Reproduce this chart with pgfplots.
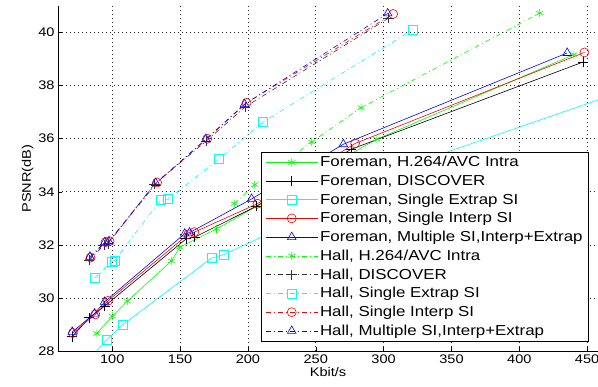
\documentclass[border=0pt]{standalone}
\usepackage{pgfplots}
\pgfplotsset{compat=1.18}
\usepackage{fontspec}
\setmainfont{Liberation Sans}
\newfontfamily\legfont[FakeStretch=1.17]{Liberation Sans}
\usetikzlibrary{calc}
\definecolor{mgreen}{rgb}{0,1,0}
\definecolor{mcyan}{rgb}{0,1,1}
\begin{document}
\begin{tikzpicture}
\begin{axis}[
  scale only axis, width=540bp, height=345bp,
  xmin=60, xmax=458, ymin=28, ymax=41,
  xtick={100,150,...,450}, ytick={28,30,...,40},
  axis x line*=bottom, axis y line*=left,
  axis line style={black, line width=0.8bp},
  tick align=inside, major tick length=4bp,
  tick style={black, line width=0.5bp},
  grid=major,
  grid style={black!85, line width=0.6bp, dash pattern=on 1bp off 3bp},
  /pgf/number format/assume math mode=true,
  /pgf/number format/1000 sep={},
  ticklabel style={font=\legfont\fontsize{12.5}{14}\selectfont},
  xlabel={Kbit/s}, ylabel={PSNR(dB)},
  label style={font=\legfont\fontsize{12.5}{14}\selectfont},
  xlabel style={yshift=3bp},
  ylabel style={yshift=-2bp},
  every axis plot/.append style={line width=0.6bp, mark options={solid, line width=0.6bp}},
  legend cell align=left,
  legend style={at={(rel axis cs:0.376,0.578)}, anchor=north west,
    draw=black, line width=0.8bp, fill=white,
    font=\legfont\fontsize{14.5}{16}\selectfont, row sep=3.8bp, inner xsep=4bp, inner ysep=3bp,
    nodes={inner ysep=1.5bp}},
  legend image code/.code={\draw[mark repeat=2,mark phase=2] plot coordinates {(0bp,0bp) (26bp,0bp) (52bp,0bp)};},
]
% Foreman (solid)
\addplot[mgreen, mark=asterisk, mark size=4bp] coordinates {
(88.6,28.66) (100,29.31) (111.1,29.88) (143.6,31.39) (149.7,31.91) (176.8,32.6) (295,35.98) (440.2,39.17)};
\addlegendentry{Foreman, H.264/AVC Intra}
\addplot[black, mark=+, mark size=5bp] coordinates {
(70.5,28.54) (83.2,29.26) (94.3,29.69) (154.6,32.23) (160.8,32.29) (206,33.45) (276,35.6) (447,38.89)};
\addlegendentry{Foreman, DISCOVER}
\addplot[mcyan, mark=square, mark size=4.5bp] coordinates {
(80,27.5) (95.6,28.41) (107.4,28.98) (173.1,31.5) (182.2,31.63) (250,33.25) (330,35.2) (500,38.2)};
\addlegendentry{Foreman, Single Extrap SI}
\addplot[red, mark=o, mark size=4.5bp] coordinates {
(71,28.68) (87.5,29.38) (96.8,29.89) (156,32.4) (160.5,32.48) (207,33.55) (279,35.82) (448,39.25)};
\addlegendentry{Foreman, Single Interp SI}
\addplot[blue, mark=triangle, mark size=5bp] coordinates {
(70.5,28.72) (86.9,29.41) (94.3,29.85) (153.4,32.42) (157,32.46) (202.7,33.73) (270.3,35.79) (435.3,39.23)};
\addlegendentry{Foreman, Multiple SI,Interp+Extrap}
% Hall (dash-dot)
\addplot[mgreen, dash pattern=on 5bp off 3bp on 1bp off 3bp, mark=asterisk, mark size=4bp] coordinates {
(190,33.55) (205,34.27) (247,35.88) (283.4,37.17) (415,40.73)};
\addlegendentry{Hall, H.264/AVC Intra}
\addplot[black!80, dash pattern=on 5bp off 3bp on 1bp off 3bp, mark=+, mark size=5bp] coordinates {
(83,31.42) (94,32.0) (97,32.05) (131,34.28) (169,35.9) (198,37.2) (303.6,40.54)};
\addlegendentry{Hall, DISCOVER}
\addplot[mcyan, dash pattern=on 5bp off 3bp on 1bp off 3bp, mark=square, mark size=4.5bp] coordinates {
(87,30.75) (99.3,31.35) (101.7,31.41) (135.5,33.68) (141,33.72) (178.5,35.23) (211.2,36.63) (321.6,40.11)};
\addlegendentry{Hall, Single Extrap SI}
\addplot[red, dash pattern=on 5bp off 3bp on 1bp off 3bp, mark=o, mark size=4.5bp] coordinates {
(84,31.52) (95,32.1) (98,32.14) (133,34.35) (170,36.0) (199,37.35) (307,40.7)};
\addlegendentry{Hall, Single Interp SI}
\addplot[blue, dash pattern=on 5bp off 3bp on 1bp off 3bp, mark=triangle, mark size=5bp] coordinates {
(83.5,31.55) (94.5,32.1) (97.5,32.12) (132,34.33) (169,35.98) (197.5,37.3) (303,40.72)};
\addlegendentry{Hall, Multiple SI,Interp+Extrap}
\end{axis}
\pgfresetboundingbox
\path ($(current axis.south west)+(-58bp,-36bp)$) rectangle ($(current axis.north east)+(0bp,6bp)$);
\end{tikzpicture}
\end{document}
